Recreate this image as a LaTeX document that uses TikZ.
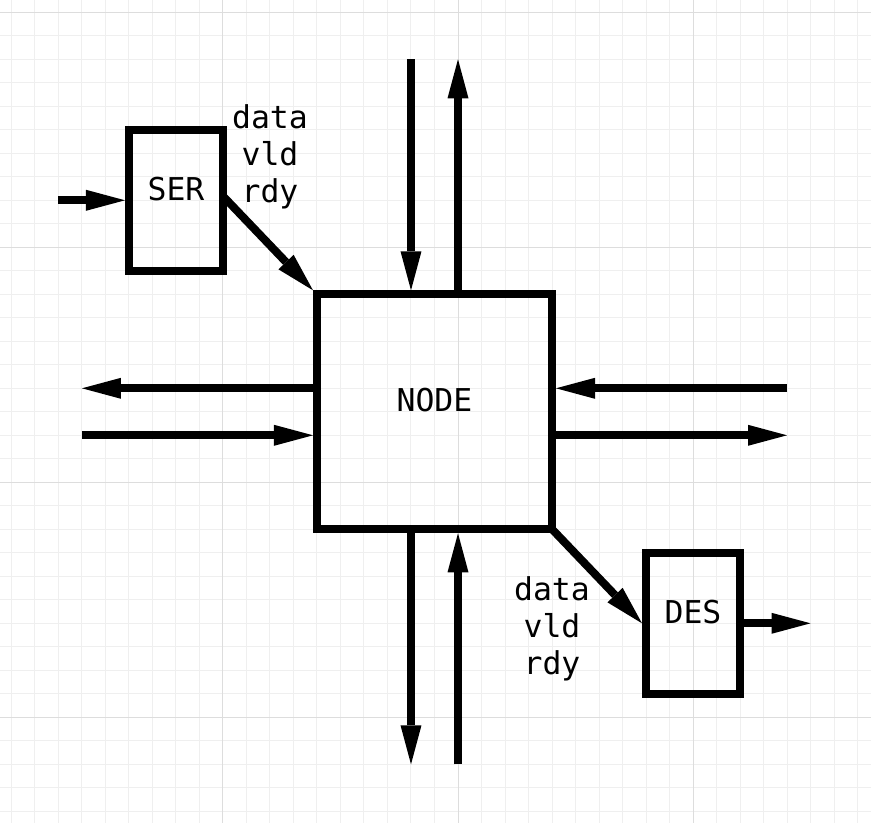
\documentclass[tikz,border=0pt]{standalone}
\usepackage{fontspec}
\setmonofont{DejaVu Sans Mono}
\usepackage{tikz}
\usetikzlibrary{shapes, arrows.meta, positioning}
\definecolor{minorgrid}{HTML}{EFEFEF}
\definecolor{majorgrid}{HTML}{DDDDDD}
\tikzstyle{block} = [rectangle, draw, line width = 0.16cm, inner sep = 0pt, text height = 0.5cm, text depth = 0.5cm, font = \ttfamily\fontsize{17.9pt}{21pt}\selectfont]
\tikzstyle{sig} = [align = center, inner sep = 0pt, font = \ttfamily\fontsize{17.9pt}{21pt}\selectfont]
\tikzstyle{arrow} = [draw, line width = 0.16cm, -{Triangle[length = 0.78cm, width = 0.42cm, line width = 0pt]}]
\tikzstyle{minor} = [draw = minorgrid, line width = 0.02cm]
\tikzstyle{major} = [draw = majorgrid, line width = 0.02cm]

\begin{document}
\begin{tikzpicture}[x = 0.47cm, y = -0.47cm]
				\fill [white] (-9.489, -0.523) rectangle (27.574, 34.498);
				\useasboundingbox (-9.489, -0.523) rectangle (27.574, 34.498);
				\foreach \i in {-9,...,27} \path [minor] (\i, -0.523) -- (\i, 34.498);
				\foreach \j in {0,...,34} \path [minor] (-9.489, \j) -- (27.574, \j);
				\foreach \i in {0, 10, 20} \path [major] (\i, -0.523) -- (\i, 34.498);
				\foreach \j in {0, 10, 20, 30} \path [major] (-9.489, \j) -- (27.574, \j);

				\node [block, minimum width = 1.88cm, minimum height = 2.82cm] (ser) at (-2, 8) {SER};
				\node [block, minimum width = 4.7cm, minimum height = 4.7cm] (noc) at (9, 17) {NODE};
				\node [block, minimum width = 1.88cm, minimum height = 2.82cm] (des) at (20, 26) {DES};
				\node [sig] (serbus) at (2, 6.16) {data\\vld\\rdy};
				\node [sig] (desbus) at (14, 26.23) {data\\vld\\rdy};

				\coordinate (serin) at (-7, 8);
				\coordinate (desout) at (25, 26);
				\coordinate (n1) at (8, 2);
				\coordinate (n2) at (10, 2);
				\coordinate (s1) at (8, 32);
				\coordinate (s2) at (10, 32);
				\coordinate (w1) at (-6, 16);
				\coordinate (w2) at (-6, 18);
				\coordinate (e1) at (24, 16);
				\coordinate (e2) at (24, 18);

				\path [arrow] (serin) -- (ser);
				\path [arrow, shorten <= -0.1cm] (ser.east) -- (noc.north west);
				\path [arrow, shorten <= -0.1cm] (noc.south east) -- (des.west);
				\path [arrow] (des) -- (desout);
				\path [arrow] (n1) -- (n1 |- noc.north);
				\path [arrow] (n2 |- noc.north) -- (n2);
				\path [arrow] (s1 |- noc.south) -- (s1);
				\path [arrow] (s2) -- (s2 |- noc.south);
				\path [arrow] (w1 -| noc.west) -- (w1);
				\path [arrow] (w2) -- (w2 -| noc.west);
				\path [arrow] (e1) -- (e1 -| noc.east);
				\path [arrow] (e2 -| noc.east) -- (e2);
			\end{tikzpicture}
\end{document}
